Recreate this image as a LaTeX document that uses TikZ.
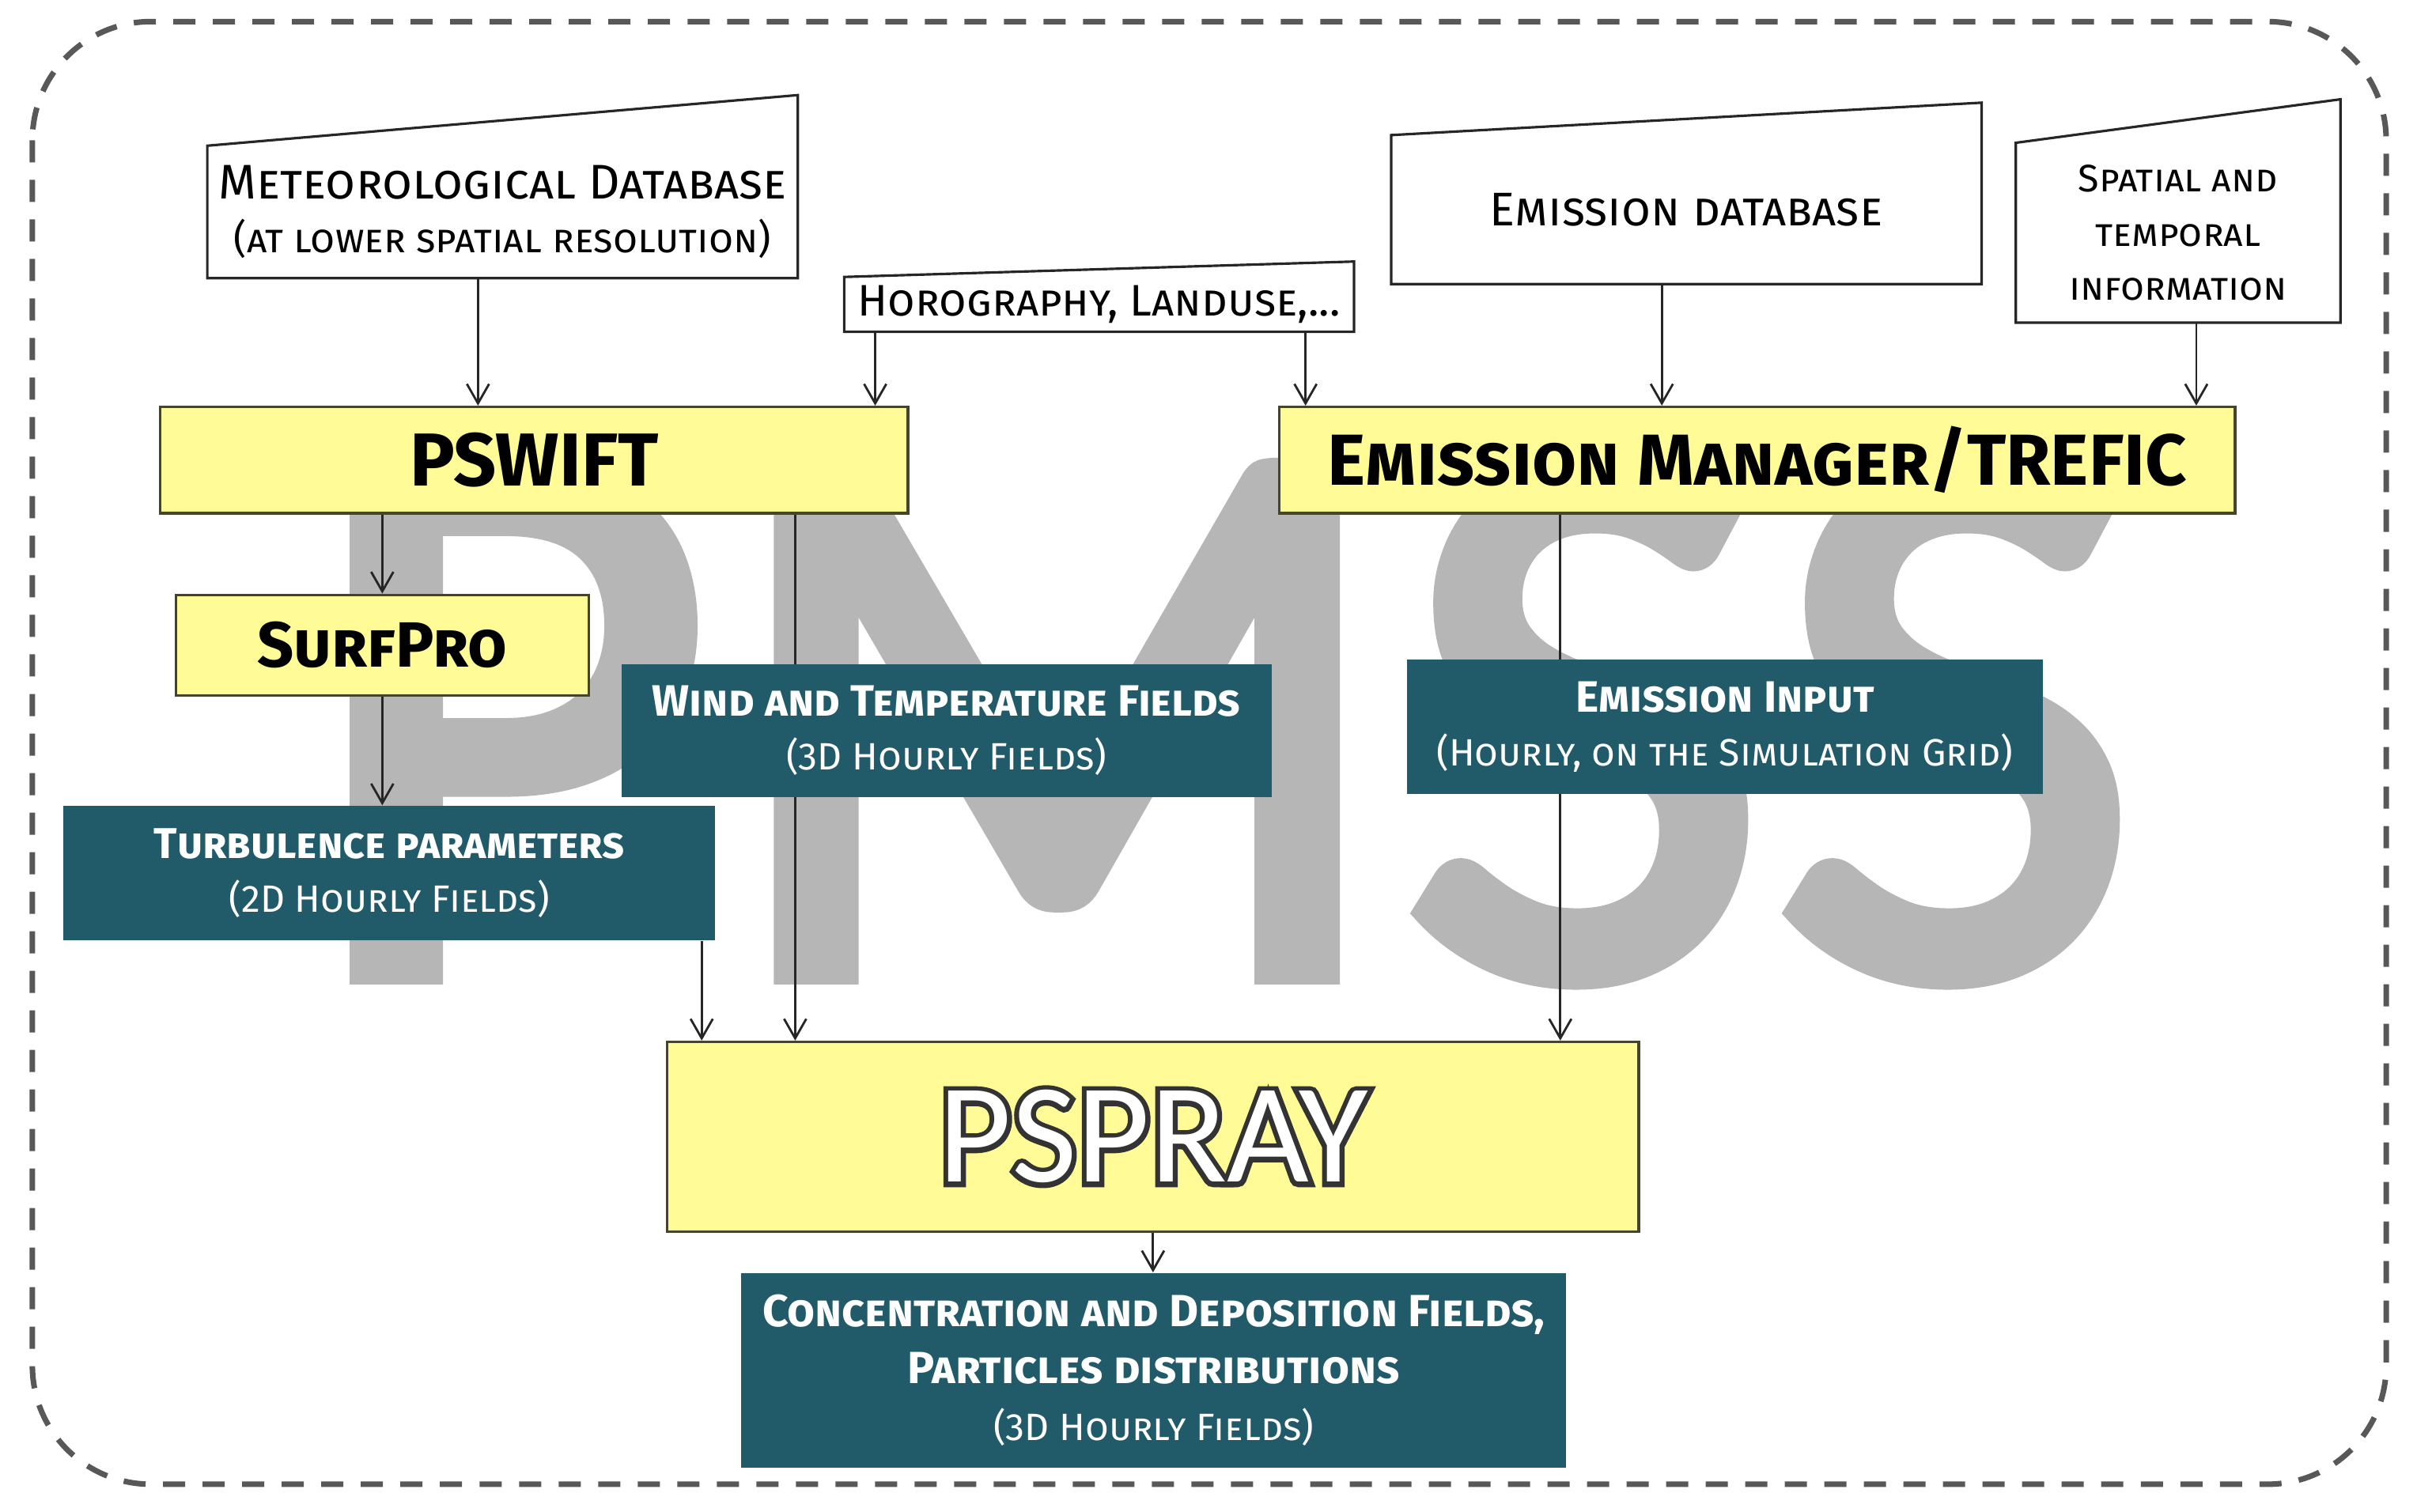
\documentclass[tikz,border=0pt]{standalone}
\usepackage{fontspec}
\setmainfont{Fira Sans}
\newfontfamily\markfont{Carlito}
\newfontfamily\markedge{Carlito}[FakeBold=7]
\newfontfamily\pmssfont{Carlito}[LetterSpace=1.5, FakeBold=3]
\usepackage{xcolor}
\usepackage{tikz}
\usetikzlibrary{arrows.meta, positioning}
\definecolor{boxyellow}{HTML}{FFFB96}
\definecolor{boxedge}{HTML}{45452E}
\definecolor{fieldteal}{HTML}{215A69}
\definecolor{markgray}{HTML}{B6B6B6}
\definecolor{framegray}{HTML}{585858}
\definecolor{outlinegray}{HTML}{333333}
\pgfdeclarelayer{mark}
\pgfdeclarelayer{links}
\pgfsetlayers{mark,links,main}
\newcommand\subline[1]{{\mdseries\fontsize{13.7}{19.4}\selectfont #1}}
\newcommand\outlined[1]{\rlap{\color{outlinegray}\markedge #1}#1}

\begin{document}
\begin{tikzpicture}[x=0.01949cm, y=-0.01949cm,
    source/.style={inner sep=0pt, align=center, font=\fontsize{17}{19.4}\selectfont},
    model/.style={draw=boxedge, line width=0.9pt, fill=boxyellow, inner sep=0pt, font=\bfseries\fontsize{27}{30}\selectfont},
    field/.style={fill=fieldteal, text=white, inner sep=0pt, align=center, font=\bfseries\fontsize{15.8}{19.4}\selectfont},
    dbedge/.style={line width=0.9pt, black!85},
    link/.style={-{Straight Barb[length=7pt,width=8pt]}, line width=0.8pt, black!85}]
    \useasboundingbox (0,0) rectangle (1568,981);
    \draw[framegray, line width=2pt, dash pattern=on 0.28cm off 0.22cm, rounded corners=1.5cm] (21,14) rectangle (1548,963);

    \begin{pgfonlayer}{mark}
        \node[font=\pmssfont\fontsize{282}{282}\selectfont, text=markgray, anchor=base, inner sep=0pt] (pmss) at (792,631) {PMSS};
    \end{pgfonlayer}

    \node[source, minimum width=7.45cm, minimum height=1.66cm, font=\fontsize{17.5}{19.4}\selectfont] (metdb) at (326,137.5)
        {\textsc{Meteorological Database}\\{\fontsize{14.3}{19.4}\selectfont\textsc{(at lower spatial resolution)}}};
    \node[source, minimum width=6.43cm, minimum height=0.68cm, font=\fontsize{15.9}{19.4}\selectfont] (horo) at (713,197.5)
        {\textsc{Horography, Landuse,...}};
    \node[source, minimum width=7.45cm, minimum height=1.87cm] (emdb) at (1094,136)
        {\textsc{Emission database}};
    \node[source, minimum width=4.09cm, minimum height=2.26cm, font=\fontsize{13.8}{19.4}\selectfont] (spatial) at (1413,151)
        {\textsc{Spatial and}\\\textsc{temporal}\\\textsc{information}};
    \foreach \db/\rise in {metdb/0.64, horo/0.195, emdb/0.41, spatial/0.55}
        \draw[dbedge] (\db.south west) -- (\db.north west) -- ([yshift=\rise cm]\db.north east) -- (\db.south east) -- cycle;

    \node[model, minimum width=9.45cm, minimum height=1.345cm] (pswift) at (346.5,298.5) {PSWIFT};
    \node[model, minimum width=12.08cm, minimum height=1.345cm, font=\bfseries\fontsize{26}{30}\selectfont] (emman) at (1140,298.5) {\textsc{Emission Manager}/TREFIC};
    \node[model, minimum width=5.22cm, minimum height=1.27cm, font=\bfseries\fontsize{23}{26}\selectfont] (surfpro) at (248,418.5) {\textsc{SurfPro}};

    \node[field, minimum width=8.22cm, minimum height=1.68cm] (wind) at (614,474)
        {\textsc{Wind and Temperature Fields}\\\subline{\textsc{(3D Hourly Fields)}}};
    \node[field, minimum width=8.24cm, minimum height=1.70cm, font=\bfseries\fontsize{15.5}{19.4}\selectfont] (turb) at (252.5,566.5)
        {\textsc{Turbulence parameters}\\\subline{\textsc{(2D Hourly Fields)}}};
    \node[field, minimum width=8.03cm, minimum height=1.70cm] (eminput) at (1119,471.5)
        {\textsc{Emission Input}\\\subline{\textsc{(Hourly, on the Simulation Grid)}}};

    \node[model, minimum width=12.28cm, minimum height=2.40cm, text=white, font=\markfont\fontsize{51}{60}\selectfont] (pspray) at (748,737.5)
        {\outlined{PSPRAY}};
    \node[field, minimum width=10.43cm, minimum height=2.46cm, font=\bfseries\fontsize{16.2}{20.5}\selectfont] (conc) at (748.5,889)
        {\textsc{Concentration and Deposition Fields,}\\\textsc{Particles distributions}\\\subline{\textsc{(3D Hourly Fields)}}};

    \begin{pgfonlayer}{links}
        \foreach \from/\dx/\to in {metdb/-0.31/pswift, horo/-2.83/pswift, horo/2.61/emman, emdb/-0.31/emman, spatial/0.23/emman, pswift/3.30/pspray, emman/-2.49/pspray, turb/3.95/pspray}
            \draw[link] ([xshift=\dx cm]\from.south) -- ([xshift=\dx cm]\from.south |- \to.north);
        \draw[link] (pswift.south -| surfpro.north) -- (surfpro.north);
        \draw[link] (surfpro.south) -- (surfpro.south |- turb.north);
        \draw[link] (pspray.south) -- (pspray.south |- conc.north);
    \end{pgfonlayer}
\end{tikzpicture}
\end{document}
